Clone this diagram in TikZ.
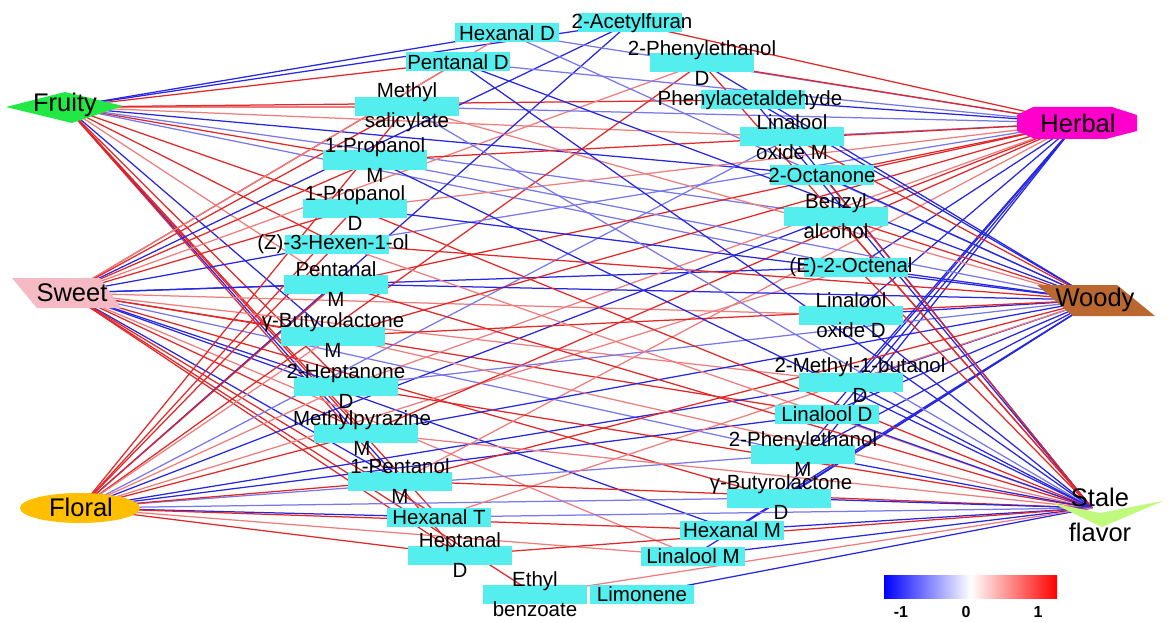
\documentclass[tikz,border=0pt]{standalone}
\usepackage{fontspec}
\setmainfont{Liberation Sans}
\usetikzlibrary{shapes.geometric,backgrounds}
\definecolor{cy}{RGB}{85,238,238}
\definecolor{sred}{RGB}{228,38,38}
\definecolor{lred}{RGB}{240,125,125}
\definecolor{sblue}{RGB}{38,38,228}
\definecolor{lblue}{RGB}{120,120,236}
\definecolor{fruitygreen}{RGB}{34,232,70}
\definecolor{sweetpink}{RGB}{245,186,196}
\definecolor{floralorange}{RGB}{255,190,0}
\definecolor{herbalmag}{RGB}{255,0,204}
\definecolor{woodybrown}{RGB}{186,104,48}
\definecolor{stalegreen}{RGB}{192,250,125}
\tikzset{
  cmp/.style={rectangle, fill=cy, minimum width=104pt, minimum height=19pt, inner sep=0pt},
  lab/.style={font=\fontsize{20.5}{30}\selectfont, align=center, inner sep=0pt, text=black},
  attr/.style={font=\fontsize{25.5}{35}\selectfont, align=center, inner sep=0pt, text=black},
  edge/.style={line width=1.25pt},
  cbl/.style={font=\fontsize{16}{18}\selectfont\bfseries, inner sep=0pt}
}
\begin{document}
\begin{tikzpicture}[x=1pt,y=-1pt]
\useasboundingbox (0,0) rectangle (1170,623);
% compound nodes
\node[cmp] (hexD) at (507,33) {};
\node[cmp] (acf) at (630,23) {};
\node[cmp] (penD) at (458,62) {};
\node[cmp] (pheD) at (702,63) {};
\node[cmp] (mesal) at (407,107) {};
\node[cmp] (phac) at (753,100) {};
\node[cmp] (prM) at (375,160) {};
\node[cmp] (loxM) at (792,137) {};
\node[cmp] (oct) at (822,175) {};
\node[cmp] (prD) at (355,208) {};
\node[cmp] (benz) at (836,216) {};
\node[cmp] (hexen) at (337,244) {};
\node[cmp] (octenal) at (856,267) {};
\node[cmp] (penM) at (336,284) {};
\node[cmp] (loxD) at (851,315) {};
\node[cmp] (butM) at (333,336) {};
\node[cmp] (mbut) at (851,382) {};
\node[cmp] (hepD) at (346,386) {};
\node[cmp] (linD) at (827,414) {};
\node[cmp] (mpyr) at (366,433) {};
\node[cmp] (pheM) at (803,454) {};
\node[cmp] (pentolM) at (400,481) {};
\node[cmp] (butD) at (779,498) {};
\node[cmp] (hexT) at (439,517) {};
\node[cmp] (hexM) at (732,530) {};
\node[cmp] (heptD) at (460,555) {};
\node[cmp] (linM) at (693,556) {};
\node[cmp] (ethb) at (535,594) {};
\node[cmp] (limo) at (642,594) {};
% compound labels
\node[lab] (hexD-t) at (hexD) {Hexanal D};
\node[lab] (acf-t) at (632,23) {2-Acetylfuran};
\node[lab] (penD-t) at (penD) {Pentanal D};
\node[lab] (pheD-t) at (pheD) {2-Phenylethanol\\D};
\node[lab] (mesal-t) at (mesal) {Methyl\\salicylate};
\node[lab] (phac-t) at (750,100) {Phenylacetaldehyde};
\node[lab] (prM-t) at (prM) {1-Propanol\\M};
\node[lab] (loxM-t) at (792,137) {Linalool\\oxide M};
\node[lab] (oct-t) at (oct) {2-Octanone};
\node[lab] (prD-t) at (prD) {1-Propanol\\D};
\node[lab] (benz-t) at (836,216) {Benzyl\\alcohol};
\node[lab] (hexen-t) at (333,244) {(Z)-3-Hexen-1-ol};
\node[lab] (octenal-t) at (851,267) {(E)-2-Octenal};
\node[lab] (penM-t) at (penM) {Pentanal\\M};
\node[lab] (loxD-t) at (loxD) {Linalool\\oxide D};
\node[lab] (butM-t) at (333,335) {γ-Butyrolactone\\M};
\node[lab] (mbut-t) at (860,380) {2-Methyl-1-butanol\\D};
\node[lab] (hepD-t) at (hepD) {2-Heptanone\\D};
\node[lab] (linD-t) at (linD) {Linalool D};
\node[lab] (mpyr-t) at (362,433) {Methylpyrazine\\M};
\node[lab] (pheM-t) at (803,454) {2-Phenylethanol\\M};
\node[lab] (pentolM-t) at (pentolM) {1-Pentanol\\M};
\node[lab] (butD-t) at (781,497) {γ-Butyrolactone\\D};
\node[lab] (hexT-t) at (hexT) {Hexanal T};
\node[lab] (hexM-t) at (hexM) {Hexanal M};
\node[lab] (heptD-t) at (heptD) {Heptanal\\D};
\node[lab] (linM-t) at (linM) {Linalool M};
\node[lab] (ethb-t) at (ethb) {Ethyl\\benzoate};
\node[lab] (limo-t) at (limo) {Limonene};
% attribute shapes
\fill[fruitygreen] (6,107) -- (65,92) -- (123,106) -- (72,123) -- cycle;
\coordinate (fruity) at (66,107);
\node[attr] (fruity-t) at (65,105) {Fruity};
\fill[sweetpink] (12,278) -- (100,278) -- (121,308) -- (37,308) -- cycle;
\coordinate (sweet) at (68,293);
\node[attr] (sweet-t) at (72,293) {Sweet};
\node[ellipse, fill=floralorange, minimum width=120pt, minimum height=30pt, inner sep=0pt] (floral) at (80,508) {};
\node[attr] (floral-t) at (81,507) {Floral};
\fill[herbalmag] (1033,107) -- (1112,107) -- (1137,115) -- (1137,131) -- (1106,139) -- (1035,139) -- (1017,131) -- (1017,115) -- cycle;
\coordinate (herbal) at (1077,123);
\node[attr] (herbal-t) at (1078,123) {Herbal};
\fill[woodybrown] (1037,285) -- (1117,285) -- (1155,316) -- (1073,316) -- cycle;
\coordinate (woody) at (1096,300);
\node[attr] (woody-t) at (1095,300) {Woody};
\fill[stalegreen] (1052,503) -- (1100,513) -- (1163,501) -- (1102,527) -- cycle;
\coordinate (stale) at (1092,508);
\node[attr] (stale-t) at (1100,515) {Stale\\flavor};
% colour bar
\node[rectangle, minimum width=173pt, minimum height=23pt, inner sep=0pt,
      left color=blue, right color=red, middle color=white] (cbar) at (970.5,587) {};
\node[cbl] (cbm1) at (901,612) {-1};
\node[cbl] (cb0) at (966,612) {0};
\node[cbl] (cb1) at (1038,612) {1};
% edges
\begin{pgfonlayer}{background}
\foreach \t/\c in {hexD/sblue, acf/sblue, penD/sred, mesal/lred, phac/sred, prM/sred, loxM/lred, oct/sblue, prD/sred, benz/lblue, hexen/sred, penM/lred, butM/sblue, hepD/sred, mpyr/sred, pentolM/sblue, hexT/sred, heptD/sred, octenal/lblue}
  \draw[edge, draw=\c] (fruity) -- (\t.center);
\foreach \t/\c in {acf/sblue, penD/sred, hexD/lred, mesal/sred, prM/sred, prD/sred, pheD/lred, hexen/sblue, octenal/sblue, penM/sblue, loxD/lred, butM/sred, hepD/sblue, mpyr/sred, mbut/lred, pentolM/sblue, hexT/sred, linD/sred, pheM/lblue, heptD/sred, butD/sred, hexM/sblue, linM/lred, ethb/sred}
  \draw[edge, draw=\c] (sweet) -- (\t.center);
\foreach \t/\c in {acf/sblue, pheD/sred, prD/sred, hexen/sred, mesal/sred, loxM/lblue, penM/sred, benz/sblue, octenal/lred, butM/lred, mbut/sblue, hepD/lred, linD/sblue, mpyr/sred, pheM/lblue, pentolM/sred, butD/lblue, hexT/sblue, hexM/sred, heptD/sred, linM/lred}
  \draw[edge, draw=\c] (floral.center) -- (\t.center);
\foreach \t/\c in {acf/sred, hexD/lblue, penD/lblue, pheD/sred, phac/sblue, mesal/lblue, loxM/lblue, oct/sred, prM/sred, benz/sred, prD/lred, octenal/sblue, hexen/lblue, penM/sred, loxD/sblue, butM/sred, mbut/sblue, hepD/lred, linD/sblue, mpyr/sred, pheM/sblue, butD/sblue, pentolM/lred}
  \draw[edge, draw=\c] (herbal) -- (\t.center);
\foreach \t/\c in {hexD/lblue, penD/sblue, pheD/sblue, phac/sblue, mesal/lred, loxM/sred, prM/lblue, oct/sblue, prD/sblue, benz/sred, hexen/sred, octenal/sblue, penM/sblue, loxD/sblue, butM/sred, mbut/sblue, hepD/lblue, linD/sblue, mpyr/sblue, pheM/sblue, pentolM/sred, butD/sblue, hexT/lred, hexM/sblue, linM/sblue}
  \draw[edge, draw=\c] (woody) -- (\t.center);
\foreach \t/\c in {penD/sblue, pheD/sred, phac/sblue, mesal/lblue, loxM/sblue, prM/sblue, oct/sred, prD/sred, benz/sred, hexen/lred, octenal/sred, penM/sred, loxD/sblue, butM/lred, mbut/sblue, hepD/sred, linD/sblue, mpyr/lred, pheM/sblue, pentolM/sred, butD/sblue, hexT/lblue, hexM/sblue, heptD/sred, linM/sblue, limo/sblue, ethb/lred}
  \draw[edge, draw=\c] (stale) -- (\t.center);
\end{pgfonlayer}
\end{tikzpicture}
\end{document}
